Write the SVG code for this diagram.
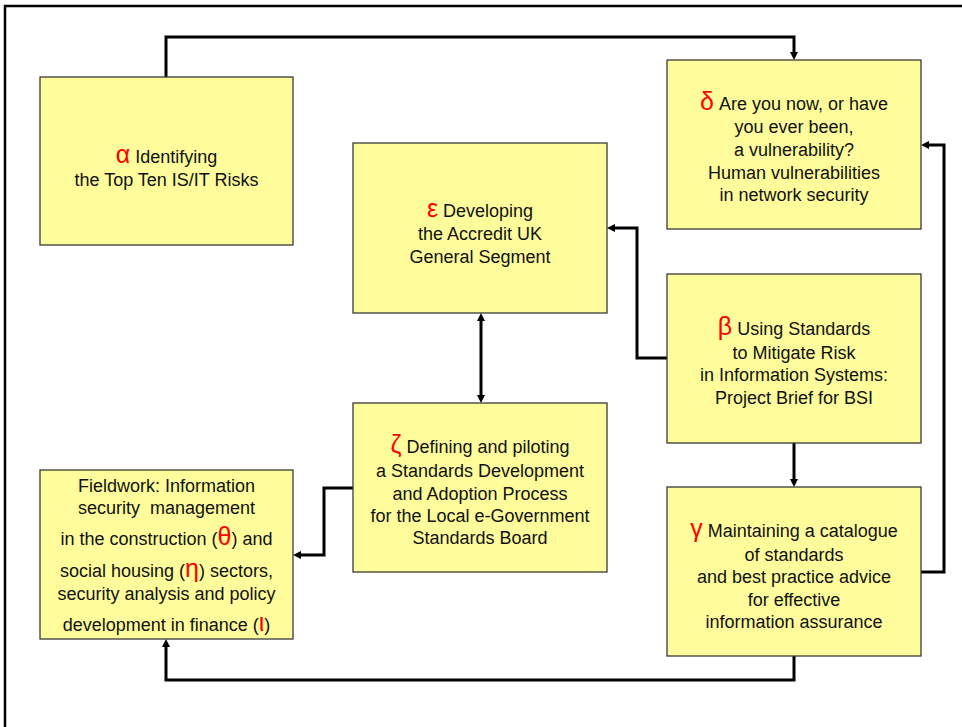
<svg xmlns="http://www.w3.org/2000/svg" width="962" height="727" viewBox="0 0 962 727">
  <style>
    .box { fill: #FFFD9B; stroke: #3a3a3a; stroke-width: 1.3; }
    .wire { fill: none; stroke: #000; stroke-width: 3; }
    text { font-family: "Liberation Sans", Arial, sans-serif; font-size: 18px; fill: #111; text-anchor: middle; white-space: pre; }
    .g { fill: #FF0000; font-size: 25px; }
  </style>
  <defs>
    <marker id="arrow" viewBox="0 0 8 8" markerWidth="8" markerHeight="8" markerUnits="userSpaceOnUse" refX="1" refY="4" orient="auto-start-reverse">
      <path d="M0,0 L8,4 L0,8 z" fill="#000"/>
    </marker>
  </defs>

  <!-- outer frame -->
  <rect x="5" y="6" width="980" height="740" fill="#fff" stroke="#000" stroke-width="2.5"/>

  <g id="connectors">
    <path class="wire" d="M166,77 V37 H794 V53" marker-end="url(#arrow)"/>
    <path class="wire" d="M667,358 H637 V228 H614" marker-end="url(#arrow)"/>
    <path class="wire" d="M481,320 V396" marker-start="url(#arrow)" marker-end="url(#arrow)"/>
    <path class="wire" d="M794,443 V480" marker-end="url(#arrow)"/>
    <path class="wire" d="M921,572 H944 V145 H928" marker-end="url(#arrow)"/>
    <path class="wire" d="M353,488 H324 V555 H300" marker-end="url(#arrow)"/>
    <path class="wire" d="M794,656 V680 H166 V646" marker-end="url(#arrow)"/>
  </g>

  <g id="alpha">
    <rect class="box" x="40" y="77" width="253" height="168"/>
    <text x="166.5" y="163"><tspan class="g">α</tspan> Identifying</text>
    <text x="166.5" y="186">the Top Ten IS/IT Risks</text>
  </g>

  <g id="epsilon">
    <rect class="box" x="353" y="143" width="254" height="170"/>
    <text x="480" y="217"><tspan class="g">ε</tspan> Developing</text>
    <text x="480" y="240">the Accredit UK</text>
    <text x="480" y="263">General Segment</text>
  </g>

  <g id="delta">
    <rect class="box" x="667" y="60" width="254" height="169"/>
    <text x="794" y="110"><tspan class="g">δ</tspan> Are you now, or have</text>
    <text x="794" y="133">you ever been,</text>
    <text x="794" y="156">a vulnerability?</text>
    <text x="794" y="179">Human vulnerabilities</text>
    <text x="794" y="201">in network security</text>
  </g>

  <g id="beta">
    <rect class="box" x="667" y="274" width="254" height="169"/>
    <text x="794" y="335"><tspan class="g">β</tspan> Using Standards</text>
    <text x="794" y="359">to Mitigate Risk</text>
    <text x="794" y="381">in Information Systems:</text>
    <text x="794" y="404">Project Brief for BSI</text>
  </g>

  <g id="gamma">
    <rect class="box" x="667" y="487" width="254" height="169"/>
    <text x="794" y="537"><tspan class="g">γ</tspan> Maintaining a catalogue</text>
    <text x="794" y="561">of standards</text>
    <text x="794" y="583">and best practice advice</text>
    <text x="794" y="606">for effective</text>
    <text x="794" y="628">information assurance</text>
  </g>

  <g id="zeta">
    <rect class="box" x="353" y="403" width="254" height="169"/>
    <text x="480" y="453"><tspan class="g">ζ</tspan> Defining and piloting</text>
    <text x="480" y="477">a Standards Development</text>
    <text x="480" y="500">and Adoption Process</text>
    <text x="480" y="522">for the Local e-Government</text>
    <text x="480" y="544">Standards Board</text>
  </g>

  <g id="fieldwork">
    <rect class="box" x="40" y="470" width="253" height="169"/>
    <text x="166.5" y="492">Fieldwork: Information</text>
    <text x="166.5" y="514">security  management</text>
    <text x="166.5" y="545">in the construction (<tspan class="g">θ</tspan>) and</text>
    <text x="166.5" y="577">social housing (<tspan class="g">η</tspan>) sectors,</text>
    <text x="166.5" y="600">security analysis and policy</text>
    <text x="166.5" y="631">development in finance (<tspan class="g">ι</tspan>)</text>
  </g>
</svg>
